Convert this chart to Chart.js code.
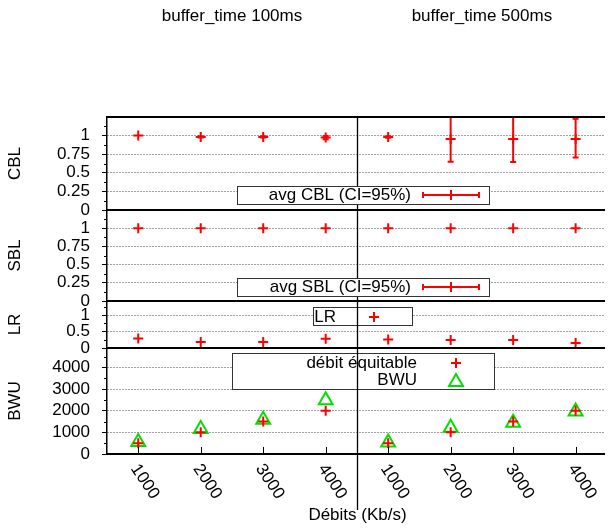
<!DOCTYPE html>
<html>
<head>
<meta charset="utf-8">
<script src="https://cdn.jsdelivr.net/npm/chart.js@4.4.1/dist/chart.umd.min.js"></script>
<style>
html, body { margin: 0; padding: 0; background: #fff; overflow: hidden; }
canvas { display: block; }
</style>
</head>
<body>
<canvas id="mainChart" width="615" height="528"></canvas>
<script>
//类别 (x轴刻度)
var xLabels = ["1000", "2000", "3000", "4000", "1000", "2000", "3000", "4000"];
var groupTitles = ["buffer_time 100ms", "buffer_time 500ms"];
var xTitle = "Débits (Kb/s)";

//CBL 平均值及置信区间
var cblAvg = [1.0, 0.98, 0.98, 0.975, 0.98, 0.955, 0.955, 0.955];
var cblLow = [1.0, 0.975, 0.975, 0.95, 0.97, 0.65, 0.645, 0.705];
var cblHigh = [1.0, 0.99, 0.99, 0.995, 0.99, 1.25, 1.25, 1.225];

//SBL 平均值
var sblAvg = [1, 1, 1, 1, 1, 1, 1, 1];

//LR
var lrVal = [0.29, 0.18, 0.18, 0.28, 0.26, 0.24, 0.24, 0.15];

//BWU
var fairRate = [500, 1000, 1500, 2000, 500, 1000, 1500, 2000];
var bwuVal = [560, 1160, 1580, 2490, 530, 1210, 1440, 1960];

var FONT = "'Liberation Sans', Arial, sans-serif";
var RED = "#ff0000";
var GREEN = "#00e000";

function toPoints(arr) {
    return arr.map(function (v, i) { return {x: i, y: v}; });
}

//每个面板的 y 轴
function yAxis(title, max, step, labelMax, weight) {
    return {
        type: "linear",
        position: "left",
        stack: "panels",
        stackWeight: weight,
        min: 0,
        max: max,
        minorStep: step / 2,
        title: {display: true, text: title, color: "#000", font: {family: FONT, size: 17}, padding: {top: 5, bottom: 0}},
        ticks: {
            autoSkip: false,
            color: "#000",
            padding: 12,
            font: {family: FONT, size: 17},
            callback: function (v) { return String(v); }
        },
        afterBuildTicks: function (s) {
            var list = [];
            for (var k = 0; k * step <= labelMax + 1e-9; k++) {
                list.push({value: Math.round(k * step * 1000) / 1000});
            }
            s.ticks = list;
        },
        grid: {
            color: function (c) {
                var v = c.tick ? c.tick.value : 0;
                return v === 0 ? "rgba(0,0,0,0)" : "#444";
            },
            tickColor: "#000",
            tickLength: 5,
            lineWidth: 1
        },
        border: {display: true, color: "#000", width: 1.5, dash: [1, 2]},
        afterFit: function (s) { s.width = 107; }
    };
}

function crossDs(label, data, axis) {
    return {
        label: label, data: toPoints(data), yAxisID: axis, xAxisID: "x",
        pointStyle: "cross", pointRadius: 5, borderColor: RED, borderWidth: 2,
        backgroundColor: RED, showLine: false
    };
}

var cblDs = crossDs("avg CBL (CI=95%)", cblAvg, "yCBL");
cblDs.errLow = cblLow;
cblDs.errHigh = cblHigh;

var datasets = [
    cblDs,
    crossDs("avg SBL (CI=95%)", sblAvg, "ySBL"),
    crossDs("LR", lrVal, "yLR"),
    crossDs("débit équitable", fairRate, "yBWU"),
    {
        label: "BWU", data: toPoints(bwuVal), yAxisID: "yBWU", xAxisID: "x",
        pointStyle: "triangle", pointRadius: 8, borderColor: GREEN, borderWidth: 2,
        backgroundColor: "rgba(0,0,0,0)", showLine: false
    }
];

function marker(ctx, style, color, r, x, y) {
    ctx.save();
    ctx.strokeStyle = color;
    ctx.fillStyle = "rgba(0,0,0,0)";
    ctx.lineWidth = 2;
    Chart.helpers.drawPoint(ctx, {pointStyle: style, radius: r, borderWidth: 2, rotation: 0}, x, y);
    ctx.restore();
}

function legendBox(ctx, x, y, w, h) {
    ctx.save();
    ctx.fillStyle = "#fff";
    ctx.fillRect(x, y, w, h);
    ctx.strokeStyle = "#333";
    ctx.lineWidth = 1;
    ctx.strokeRect(x + 0.5, y + 0.5, w, h);
    ctx.restore();
}

function legendText(ctx, text, x, y) {
    ctx.save();
    ctx.fillStyle = "#000";
    ctx.font = "17px " + FONT;
    ctx.textAlign = "right";
    ctx.textBaseline = "middle";
    ctx.fillText(text, x, y);
    ctx.restore();
}

function errLegend(ctx, x1, x2, y) {
    ctx.save();
    ctx.strokeStyle = RED;
    ctx.lineWidth = 2;
    ctx.beginPath();
    ctx.moveTo(x1, y); ctx.lineTo(x2, y);
    ctx.moveTo(x1, y - 3); ctx.lineTo(x1, y + 3);
    ctx.moveTo(x2, y - 3); ctx.lineTo(x2, y + 3);
    ctx.stroke();
    ctx.restore();
    marker(ctx, "cross", RED, 5, (x1 + x2) / 2, y);
}

var panelPlugin = {
    id: "panels",
    afterDatasetsDraw: function (chart) {
        var ctx = chart.ctx;
        chart.data.datasets.forEach(function (ds, di) {
            if (!ds.errLow) return;
            var ys = chart.scales[ds.yAxisID];
            chart.getDatasetMeta(di).data.forEach(function (pt, i) {
                var lo = ys.getPixelForValue(ds.errLow[i]);
                var hi = ys.getPixelForValue(ds.errHigh[i]);
                if (Math.abs(lo - hi) < 1) return;
                ctx.save();
                ctx.strokeStyle = RED;
                ctx.lineWidth = 2;
                ctx.beginPath();
                ctx.moveTo(pt.x, lo); ctx.lineTo(pt.x, hi);
                ctx.moveTo(pt.x - 3, lo); ctx.lineTo(pt.x + 3, lo);
                ctx.moveTo(pt.x - 3, hi); ctx.lineTo(pt.x + 3, hi);
                ctx.stroke();
                ctx.restore();
            });
        });
    },
    afterDraw: function (chart) {
        var ctx = chart.ctx;
        var area = chart.chartArea;
        var xs = chart.scales.x;
        var i, v;

        //次刻度
        ["yCBL", "ySBL", "yLR", "yBWU"].forEach(function (id) {
            var s = chart.scales[id];
            var st = s.options.minorStep;
            ctx.save();
            ctx.strokeStyle = "#000";
            ctx.lineWidth = 1;
            ctx.beginPath();
            for (v = st; v < s.max; v += 2 * st) {
                var py = Math.round(s.getPixelForValue(v)) + 0.5;
                ctx.moveTo(area.left - 3, py);
                ctx.lineTo(area.left, py);
            }
            ctx.stroke();
            //面板分隔线
            ctx.lineWidth = 2;
            ctx.beginPath();
            ctx.moveTo(area.left, s.top); ctx.lineTo(area.right, s.top);
            ctx.moveTo(area.left, s.bottom); ctx.lineTo(area.right, s.bottom);
            ctx.stroke();
            ctx.restore();
        });

        //x 轴刻度
        ctx.save();
        ctx.strokeStyle = "#000";
        ctx.lineWidth = 1;
        ctx.beginPath();
        for (i = 0; i < xLabels.length; i++) {
            var tx = Math.round(xs.getPixelForValue(i)) + 0.5;
            ctx.moveTo(tx, area.bottom);
            ctx.lineTo(tx, area.bottom - 7);
        }
        ctx.stroke();
        ctx.restore();

        //LR 与 BWU 图例
        legendBox(ctx, 313, 307, 99, 18);
        legendText(ctx, "LR", 336, 317);
        marker(ctx, "cross", RED, 5, 374, 317);
        legendBox(ctx, 232, 353, 262, 36);
        legendText(ctx, "débit équitable", 417, 363);
        legendText(ctx, "BWU", 417, 380);
        marker(ctx, "cross", RED, 5, 456, 363);
        marker(ctx, "triangle", GREEN, 8, 456, 382);

        //分组竖线
        var mid = Math.round(xs.getPixelForValue((xLabels.length - 1) / 2)) + 0.5;
        ctx.save();
        ctx.strokeStyle = "#000";
        ctx.lineWidth = 1.3;
        ctx.beginPath();
        ctx.moveTo(mid, area.top);
        ctx.lineTo(mid, 510);
        ctx.stroke();
        ctx.restore();

        //CBL 与 SBL 图例
        legendBox(ctx, 237, 186, 252, 18);
        legendText(ctx, "avg CBL (CI=95%)", 411, 195);
        errLegend(ctx, 423, 479, 195);
        legendBox(ctx, 237, 278, 252, 18);
        legendText(ctx, "avg SBL (CI=95%)", 411, 287);
        errLegend(ctx, 423, 479, 287);

        //标题与 x 轴标签
        ctx.save();
        ctx.fillStyle = "#000";
        ctx.font = "17px " + FONT;
        ctx.textAlign = "center";
        ctx.textBaseline = "middle";
        ctx.fillText(groupTitles[0], xs.getPixelForValue(1.5), 16);
        ctx.fillText(groupTitles[1], xs.getPixelForValue(5.5), 16);
        ctx.fillText(xTitle, mid, 515);
        ctx.textAlign = "left";
        for (i = 0; i < xLabels.length; i++) {
            ctx.save();
            ctx.translate(xs.getPixelForValue(i) - 4, 466);
            ctx.rotate(56 * Math.PI / 180);
            ctx.fillText(xLabels[i], 0, 0);
            ctx.restore();
        }
        ctx.restore();
    }
};

var chart = new Chart(document.getElementById("mainChart").getContext("2d"), {
    type: "scatter",
    data: {datasets: datasets},
    options: {
        responsive: false,
        animation: false,
        devicePixelRatio: 1,
        layout: {padding: {top: 117, left: 0, right: 0, bottom: 0}},
        plugins: {legend: {display: false}, tooltip: {enabled: false}},
        scales: {
            x: {
                type: "linear",
                position: "bottom",
                min: -0.5,
                max: 7.47,
                ticks: {display: false, stepSize: 1},
                grid: {display: false},
                border: {display: false},
                afterFit: function (s) { s.height = 74; }
            },
            yBWU: yAxis("BWU", 4900, 1000, 4000, 106),
            yLR: yAxis("LR", 1.43, 0.5, 1, 47),
            ySBL: yAxis("SBL", 1.25, 0.25, 1, 91),
            yCBL: yAxis("CBL", 1.25, 0.25, 1, 93)
        }
    },
    plugins: [panelPlugin]
});
</script>
</body>
</html>
